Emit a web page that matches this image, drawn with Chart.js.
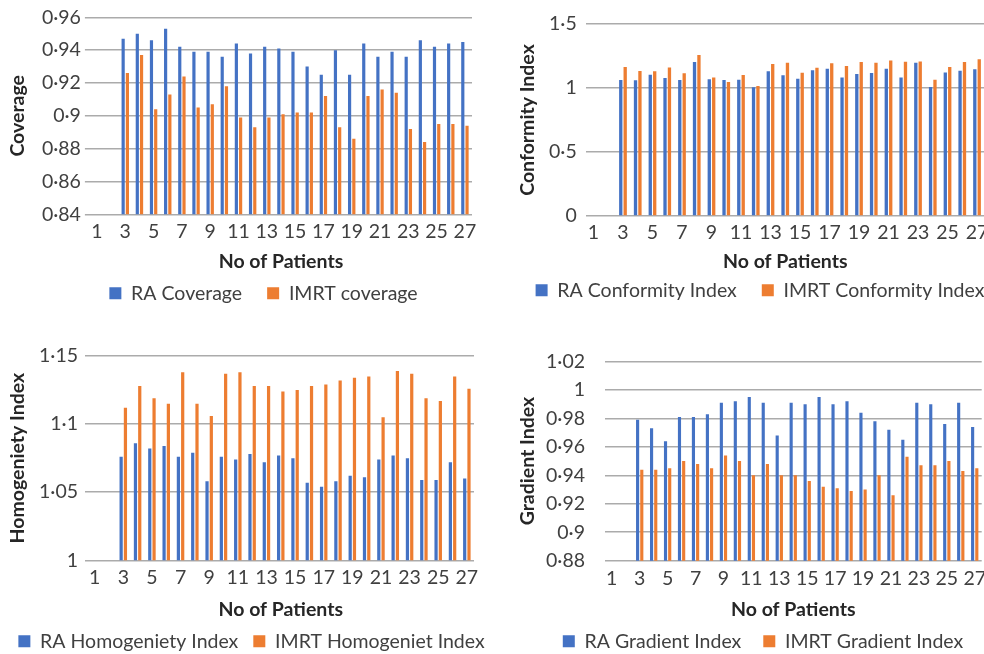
<!DOCTYPE html>
<html>
<head>
<meta charset="utf-8">
<script src="https://cdn.jsdelivr.net/npm/chart.js@4.4.1/dist/chart.umd.min.js"></script>
<style>
  html, body { margin: 0; padding: 0; background: #fff; overflow: hidden; width: 984px; height: 654px; }
  .panel { position: absolute; }
</style>
</head>
<body>
<div class="panel" style="left:0px;top:0px;width:490px;height:313px"><canvas id="cov"></canvas></div>
<div class="panel" style="left:440px;top:0px;width:570px;height:310px"><canvas id="ci"></canvas></div>
<div class="panel" style="left:-40px;top:330px;width:530px;height:331px"><canvas id="hi"></canvas></div>
<div class="panel" style="left:490px;top:330px;width:520px;height:331px"><canvas id="gi"></canvas></div>
<script>
// Patients 1..27 (the first two have no values)
const patients = ["1", "2", "3", "4", "5", "6", "7", "8", "9", "10", "11", "12", "13", "14",
  "15", "16", "17", "18", "19", "20", "21", "22", "23", "24", "25", "26", "27"];

const raCoverage = [null, null, 0.947, 0.950, 0.946, 0.953, 0.942, 0.939, 0.939, 0.936, 0.944, 0.938, 0.942,
  0.941, 0.939, 0.930, 0.925, 0.940, 0.925, 0.944, 0.936, 0.939, 0.936, 0.946, 0.942, 0.944, 0.945];
const imrtCoverage = [null, null, 0.926, 0.937, 0.904, 0.913, 0.924, 0.905, 0.907, 0.918, 0.899, 0.893, 0.899,
  0.901, 0.902, 0.902, 0.912, 0.893, 0.886, 0.912, 0.916, 0.914, 0.892, 0.884, 0.895, 0.895, 0.894];

const raConformity = [null, null, 1.062, 1.060, 1.104, 1.078, 1.062, 1.203, 1.068, 1.062, 1.065, 1.005, 1.130,
  1.099, 1.073, 1.138, 1.151, 1.083, 1.110, 1.117, 1.151, 1.083, 1.198, 1.008, 1.122, 1.135, 1.146];
const imrtConformity = [null, null, 1.164, 1.133, 1.130, 1.161, 1.115, 1.258, 1.083, 1.047, 1.102, 1.016, 1.188,
  1.198, 1.120, 1.159, 1.193, 1.172, 1.203, 1.198, 1.214, 1.206, 1.208, 1.065, 1.164, 1.203, 1.224];

const raHomogeneity = [null, null, 1.076, 1.086, 1.082, 1.084, 1.076, 1.079, 1.058, 1.076, 1.074, 1.078, 1.072,
  1.077, 1.075, 1.057, 1.054, 1.058, 1.062, 1.061, 1.074, 1.077, 1.075, 1.059, 1.059, 1.072, 1.060];
const imrtHomogeneity = [null, null, 1.112, 1.128, 1.119, 1.115, 1.138, 1.115, 1.106, 1.137, 1.138, 1.128, 1.128,
  1.124, 1.125, 1.128, 1.129, 1.132, 1.134, 1.135, 1.105, 1.139, 1.137, 1.119, 1.117, 1.135, 1.126];

const raGradient = [null, null, 0.979, 0.973, 0.964, 0.981, 0.981, 0.983, 0.991, 0.992, 0.995, 0.991, 0.968,
  0.991, 0.990, 0.995, 0.990, 0.992, 0.984, 0.978, 0.972, 0.965, 0.991, 0.990, 0.976, 0.991, 0.974];
const imrtGradient = [null, null, 0.944, 0.944, 0.945, 0.950, 0.948, 0.945, 0.954, 0.950, 0.940, 0.948, 0.940,
  0.940, 0.936, 0.932, 0.931, 0.929, 0.930, 0.940, 0.926, 0.953, 0.947, 0.947, 0.950, 0.943, 0.945];

const BLUE = "#4472C4";
const ORANGE = "#ED7D31";
const GRID = "#ababab";
const TEXT = "#404040";
const FONT_SIZE = 19.5;

Chart.defaults.font.family = "Lato, 'Open Sans', sans-serif";
Chart.defaults.color = TEXT;

// Moves the legend row so that its centre sits where the reference has it
const legendShift = {
  id: "legendShift",
  afterLayout(chart, args, opts) {
    const lg = chart.legend;
    if (!lg) return;
    const dx = opts.center - (lg.left + lg.right) / 2;
    lg.left += dx;
    lg.right += dx;
  }
};

// Decimal point written as a middle dot, as in the figure
function dotFormat(v) {
  return String(parseFloat(v.toFixed(4))).replace(".", "\u00B7");
}

function makePanel(id, p) {
  new Chart(document.getElementById(id), {
    type: "bar",
    data: {
      labels: patients,
      datasets: [
        { label: p.names[0], data: p.ra, backgroundColor: BLUE, categoryPercentage: 0.6, barPercentage: 0.75 },
        { label: p.names[1], data: p.imrt, backgroundColor: ORANGE, categoryPercentage: 0.6, barPercentage: 0.75 },
      ],
    },
    options: {
      responsive: true,
      maintainAspectRatio: false,
      animation: false,
      layout: { padding: { top: p.top, left: 0, right: p.right, bottom: 0 } },
      plugins: {
        tooltip: { enabled: false },
        legend: {
          position: "bottom",
          labels: { boxWidth: 12, boxHeight: 12, padding: p.legendPad, color: TEXT, font: { size: FONT_SIZE } },
        },
        legendShift: { center: p.legendCenter },
      },
      scales: {
        x: {
          grid: { display: false, drawTicks: false },
          border: { display: false },
          ticks: {
            autoSkip: false,
            maxRotation: 0,
            padding: p.xTickPad,
            font: { size: FONT_SIZE },
            callback: function (val, i) {
              return i % 2 === 0 ? this.getLabelForValue(val) : "";
            },
          },
          title: {
            display: true,
            text: "No of Patients",
            color: "#262626",
            font: { size: FONT_SIZE, weight: "bold" },
            padding: { top: 0, bottom: p.xTitlePad },
          },
          afterFit: (s) => { s.height = p.xHeight; },
        },
        y: {
          min: p.min,
          max: p.max,
          grid: { color: GRID, lineWidth: 1.5, drawTicks: p.yTickLen > 0, tickLength: p.yTickLen },
          border: { display: false },
          ticks: { stepSize: p.step, padding: p.yTickPad, font: { size: FONT_SIZE }, callback: (v) => dotFormat(v) },
          title: {
            display: true,
            text: p.yTitle,
            color: "#262626",
            font: { size: FONT_SIZE, weight: "bold" },
            padding: { top: p.yTitlePad, bottom: 0 },
          },
          afterFit: (s) => { s.width = p.yWidth; },
        },
      },
    },
    plugins: [legendShift],
  });
}

makePanel("cov", {
  names: ["RA Coverage", "IMRT coverage"], ra: raCoverage, imrt: imrtCoverage,
  yTitle: "Coverage", min: 0.84, max: 0.96, step: 0.02,
  top: 17.3, right: 18, yWidth: 89.9, xHeight: 44.2,
  yTitlePad: 6.3, yTickLen: 5, yTickPad: 4, xTickPad: 5.5, xTitlePad: -15.2,
  legendPad: 25, legendCenter: 263.5,
});

// canvas starts at x=440 so the legend fits on one row
makePanel("ci", {
  names: ["RA Conformity Index", "IMRT Conformity Index"], ra: raConformity, imrt: imrtConformity,
  yTitle: "Conformity Index", min: 0, max: 1.5, step: 0.5,
  top: 24, right: 25.6, yWidth: 146.1, xHeight: 39.5,
  yTitlePad: 75.8, yTickLen: 0, yTickPad: 9.4, xTickPad: 4.8, xTitlePad: -18.2,
  legendPad: 25, legendCenter: 320,
});

// canvas starts at x=-40 for the same reason
makePanel("hi", {
  names: ["RA Homogeniety Index", "IMRT Homogeniet Index"], ra: raHomogeneity, imrt: imrtHomogeneity,
  yTitle: "Homogeniety Index", min: 1, max: 1.15, step: 0.05,
  top: 26, right: 16, yWidth: 127.5, xHeight: 56.2,
  yTitlePad: 45.8, yTickLen: 2.5, yTickPad: 7, xTickPad: 5.5, xTitlePad: -4.7,
  legendPad: 15, legendCenter: 291.5,
});

makePanel("gi", {
  names: ["RA Gradient Index", "IMRT Gradient Index"], ra: raGradient, imrt: imrtGradient,
  yTitle: "Gradient Index", min: 0.88, max: 1.02, step: 0.02,
  top: 13.3, right: 28.3, yWidth: 114.8, xHeight: 48.8,
  yTitlePad: 26.3, yTickLen: 0, yTickPad: 19.8, xTickPad: 6.6, xTitlePad: -11.7,
  legendPad: 22, legendCenter: 273,
});
</script>
</body>
</html>
